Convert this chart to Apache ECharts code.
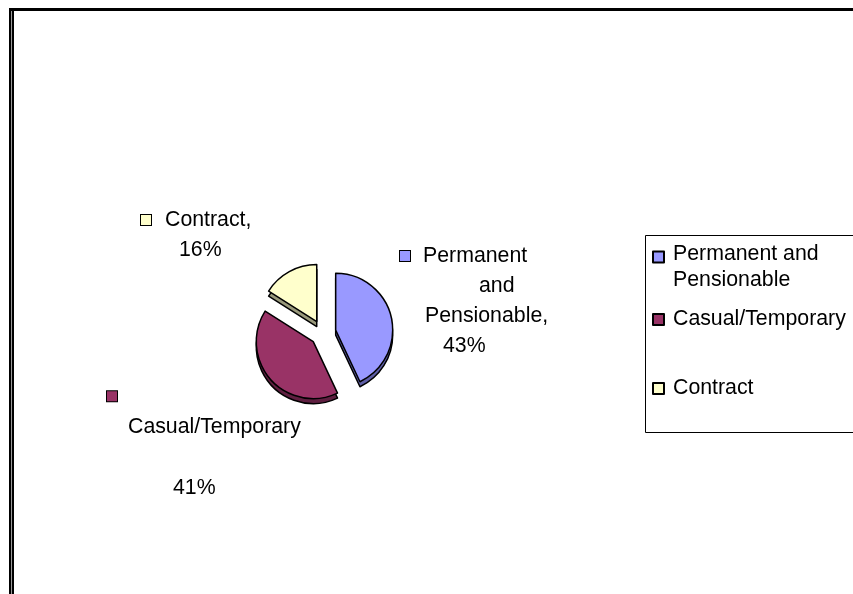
<!DOCTYPE html>
<html>
<head>
<meta charset="utf-8">
<script src="https://cdn.jsdelivr.net/npm/echarts@6/dist/echarts.min.js"></script>
<style>
  html, body { margin: 0; padding: 0; background: #fff; }
  #chart { width: 853px; height: 594px; }
</style>
</head>
<body>
<div id="chart"></div>
<script>
// Employment type breakdown (percent of staff)
const categories = ['Permanent and Pensionable', 'Casual/Temporary', 'Contract'];
const shares = [43, 41, 16];
const legendLabels = [['Permanent and', 'Pensionable'], ['Casual/Temporary'], ['Contract']];

const topColors = ['#9999FF', '#993366', '#FFFFCC'];
const sideColors = ['#5e5ea6', '#5f1f40', '#9a9a7c'];
const FONT = '"Liberation Sans", Arial, sans-serif';
const FS = 21.3;

const sq = c => ({ width: 10, height: 10, backgroundColor: c, borderColor: '#000', borderWidth: 1 });
const sp = w => ({ width: w, height: 1 });

// Data label text per slice; {sqN} is the colour key, {sNN} a horizontal indent
function labelText(i) {
  const v = shares[i] + '%';
  if (i === 0) return '{sq0|}{s13|}Permanent\n{s79|}and\n{s25|}Pensionable,\n{s43|}' + v;
  if (i === 1) return '{sq1|}\n{s21|}Casual/Temporary\n \n{s66|}' + v;
  return '{sq2|}{s14|}Contract,\n{s38|}' + v;
}
const labelBoxes = [
  { x: 400, y: 241, lh: 30 },
  { x: 107, y: 381, lh: 30.5 },
  { x: 141, y: 205, lh: 30 }
];
const labelRich = {
  sq0: sq(topColors[0]), sq1: sq(topColors[1]), sq2: sq(topColors[2]),
  s13: sp(13), s14: sp(14), s21: sp(21), s25: sp(25), s38: sp(38), s43: sp(43), s66: sp(66), s79: sp(79)
};

const chart = echarts.init(document.getElementById('chart'), null, { renderer: 'canvas' });

const pieBase = {
  type: 'pie',
  center: [323, 333],
  radius: 57,
  startAngle: 90,
  clockwise: true,
  selectedMode: 'multiple',
  selectedOffset: 13,
  animation: false,
  emphasis: { disabled: true },
  label: { show: false },
  labelLine: { show: false }
};

const legendText = {
  fontSize: FS, color: '#000', fontFamily: FONT,
  rich: {
    t: { fontSize: FS, fontFamily: FONT, color: '#000', lineHeight: 26.5, padding: [0, 0, 0, 4] },
    e: { fontSize: FS, lineHeight: 20.5 }
  }
};
function legendFor(i, top, fmt) {
  return {
    data: [categories[i]], left: 652, top: top, padding: 0,
    icon: 'rect', itemWidth: 11, itemHeight: 11, selectedMode: false,
    formatter: fmt,
    textStyle: legendText
  };
}

const option = {
  backgroundColor: '#fff',
  animation: false,
  textStyle: { fontFamily: FONT },
  graphic: [
    // outer frame
    { type: 'line', shape: { x1: 11.5, y1: 8, x2: 11.5, y2: 600 }, style: { stroke: '#000', lineWidth: 5 }, z: 0 },
    { type: 'line', shape: { x1: 11.5, y1: 11, x2: 11.5, y2: 600 }, style: { stroke: '#999', lineWidth: 1 }, z: 0 },
    { type: 'line', shape: { x1: 9, y1: 9.5, x2: 860, y2: 9.5 }, style: { stroke: '#000', lineWidth: 3 }, z: 0 },
    // legend box
    { type: 'rect', shape: { x: 645.5, y: 235.5, width: 240, height: 197 }, style: { fill: 'none', stroke: '#000', lineWidth: 1 }, z: 0 }
  ].concat(categories.map((n, i) => ({
    // slice data labels
    type: 'text', x: labelBoxes[i].x, y: labelBoxes[i].y, z: 10,
    style: {
      text: labelText(i), fill: '#000', fontSize: FS, fontFamily: FONT,
      align: 'left', verticalAlign: 'top', lineHeight: labelBoxes[i].lh, rich: labelRich
    }
  }))),
  legend: [
    legendFor(0, 220, () => '{e| }\n{t|' + legendLabels[0][0] + '}\n{t|' + legendLabels[0][1] + '}'),
    legendFor(1, 309, () => '{t|' + legendLabels[1][0] + '}'),
    legendFor(2, 378, () => '{t|' + legendLabels[2][0] + '}')
  ],
  series: [
    Object.assign({}, pieBase, {
      name: 'Employment',
      z: 3,
      itemStyle: { borderColor: '#000', borderWidth: 1.5 },
      data: categories.map((n, i) => ({
        name: n, value: shares[i], selected: true,
        itemStyle: { color: topColors[i] }
      }))
    }),
    // slice thickness, drawn beneath the top faces
    Object.assign({}, pieBase, {
      name: 'Employment depth',
      z: 2,
      center: [323, 338],
      silent: true,
      itemStyle: { borderColor: '#000', borderWidth: 1.5 },
      data: categories.map((n, i) => ({
        name: n, value: shares[i], selected: true,
        itemStyle: { color: sideColors[i] }
      }))
    })
  ]
};

chart.setOption(option);
</script>
</body>
</html>
